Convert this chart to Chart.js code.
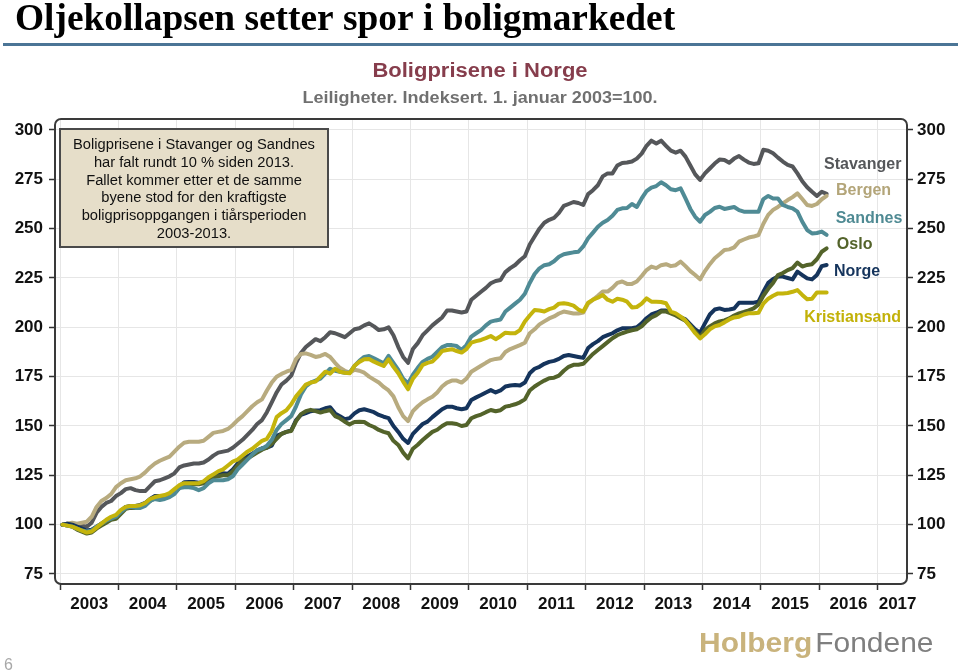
<!DOCTYPE html>
<html><head><meta charset="utf-8">
<script src="https://cdn.jsdelivr.net/npm/chart.js@4.4.1/dist/chart.umd.min.js"></script>
<style>html,body{margin:0;padding:0;background:#fff;}canvas{display:block;}</style>
</head><body>
<canvas id="c" width="960" height="672"></canvas>
<script>
// ---- data (monthly index, Jan 2003 = 100) ----
const startYear = 2003;
const yearTicks = [2003,2004,2005,2006,2007,2008,2009,2010,2011,2012,2013,2014,2015,2016,2017];
const valueTicks = [75,100,125,150,175,200,225,250,275,300];

const stavanger = [100,100.5,100.5,100,99.5,99,101,106,109,111,112,114.5,
116,118,118.5,117.5,117,117,119.5,122,122.5,123.5,124.5,126,
129,130,130.5,131,131,131.5,133,135,136.5,137,137.5,139,
141,143,145.5,148,151,153,157,162,167,171,173,175.5,
182,187,190,192,194,193,195,197.5,197,196,195,197,
199,199.5,201,202,200.5,198.6,199,200,196,190,185,182,
189,192,196,198.5,201,203,205,208.5,208.5,208,207.5,208,
214,216,218,220,222.3,223.5,224,228,230,231.6,234,236,
242,246,250,253,254.5,255.5,258,261.5,262.5,263.5,263,262,
267.5,269.5,272,276.5,278,278,282,283.3,283.5,284,285.5,288,
292,294.6,293.2,294.6,292,289.5,288.5,289.5,286.5,282,277.5,274.7,
278,280.5,283,285,284.8,283.4,285.5,286.8,285,283.5,282.8,283.1,
290,289.5,288.2,286,284,282.3,281.5,278,274,271,268.7,266.6,
268.7,267.6];

const bergen = [100,100.5,101,100.5,101,101.5,104,109,112,113.5,115.5,119,
121,122.5,123,123.5,124.5,126.5,129,131,132.4,133.5,134.5,137,
139.5,141.5,142,142,142,142.5,144.5,146.5,147,147.5,148.5,150.5,
153,155,157.5,160,162,163.5,168,172,175,176.4,177.5,178.4,
184,186.5,186.8,186,185,185.5,186.5,185,182,179.5,178,177,
178.5,178,177,175,173.5,172,169.8,168,165,159.5,155,152.5,
157.5,160,162,163.5,164.8,167,170,172,173,173,172,174,
177.5,179,180.5,182,183.4,184,184.3,187.5,189,190,191,192.2,
197,199,201.5,203,204.5,205.5,207,208,207.5,207,207,207.5,
212,214,216,218.1,218.1,220,222.5,223.2,222,222,223.2,226,
229,230.8,230,231.5,232,231,231.5,233.3,231,228.5,226.5,224.3,
228.5,232,235,237,239.2,239.5,240.5,243.4,244.5,245.5,246,246.8,
252.5,257,259.5,261,262.8,264.5,266,267.9,265,262,261.5,262.5,
264.9,266.6];

const sandnes = [100,99.5,99,98,97,96.5,97,99,100.5,102,103,104,
106.5,108.5,109,108.5,108.5,109.5,112,113,112.5,113,114,115.5,
118.5,119,119,118.5,117.5,118.5,121,122.5,122.5,122.5,123,124.5,
128,130.5,133,135.5,137.7,138.5,140,143,148,151,153,155,
160,166,170,172,173,174,176.5,179,178,177.5,177,177,
180.5,183,185,185.5,184.3,183,181.8,185.5,182,178.4,174,171.6,
176,179.5,182.5,184,185.1,187.5,190,191,191,190.5,188.5,191,
195.3,197,198.6,201,202.9,203.5,204,208,210,212,214,217,
222.5,227,229.9,231.5,232,233.5,235.8,237,237.5,238,238.3,241,
245.1,248,251,253,254.4,256.5,259.5,260.3,260.5,262.5,261,265.3,
269,270.8,271.6,273.5,272,270,269.5,270.4,265.3,260,256,253.5,
256.9,258.5,260.5,261.1,260,260.5,261,259.4,258.6,258.6,258.6,258.6,
265,266.6,265.3,265.3,262,261,260.3,258.6,253.5,249.3,247.6,247.8,
248.5,246.8];

const kristiansand = [100,99.5,99,98,97,96,96.5,98.5,100.5,102.5,104,105,
107.5,109,109.5,109.5,109.8,111,113,114,114.5,115,116,118,
120,121,121,121,121,122,124,125.5,127,128,130,132,
133,135,137,138.5,140.5,142.5,143.5,147.5,154.5,156.5,158,161,
165,168,171,172,172.5,175,177.5,176.5,179,177.5,177,176.7,
180.5,182.5,183.8,184,182.6,181.5,180.4,183.8,180,176.7,172.5,168.6,
174,177,180.9,182,182.6,185,188,188.5,188.9,188,187.2,189,
192.2,193,193.6,194.5,195.6,194,195.5,197.3,197,197,198.6,203,
206,208.8,208.5,208,209.2,210,212,212.2,211.8,211,209,208,
212.5,214,215,216.4,214,213,214.5,214,213,210.1,210.3,212,
214.7,213,213,212.8,212.2,208,207.1,205.4,203.5,200.3,197,194.4,
196.5,199,200.5,201.2,202.5,204,205,205.4,206.5,207.1,207.1,207.4,
212,214.5,216,217.2,217.2,217.4,218,218.9,216.4,214.2,214.5,217.6,
217.6,217.6];

const norge = [100,100.5,100,99,98,97,97.5,99,100.5,102,103.5,104.5,
107,109,109.5,109.5,110,111,113,114.5,114.5,114.5,115.5,117,
119.5,121.5,121.6,121.6,121.3,121.5,123.5,125,125.8,126,125.8,128,
131,133.5,134.5,136,137.5,138.7,139,140,145,146,147,147.8,
153,155.6,156.5,157.5,157.8,158,159,159.5,156.4,155,153.4,154,
156.4,158,158.5,157.8,157,155.6,154.7,154,150,147,143.5,141.4,
146,148.5,151,152.2,154.5,156.5,158.5,159.8,159.8,159,158.5,159,
163.2,164.5,165.7,167,168.2,167,168,170,170.5,170.8,170.5,172,
176.7,179,180,181.5,182.5,183,184,185.5,186,185.5,185,184.5,
189.5,191.5,193,195,196,197,198.5,199.5,199.5,199.5,200,202,
204.6,206.5,207.4,208.5,208.5,207.5,206.5,205,204,201.5,199,197.3,
202,206.5,209,209.6,208.8,209,209.5,212.5,212.5,212.5,212.5,213,
218,222.5,224.5,225.7,225.7,225,224.3,228.2,226.5,224.8,224.3,226.5,
231,231.6];

const oslo = [100,99.5,99,97.5,96.5,95.5,96,98,99.5,101,102.5,103,
105.5,108,108.5,108.5,109,110,112,113.5,113.5,113.5,114.5,116,
118.5,120.5,120.5,120.5,120.5,121,122.5,124,124.5,125,125,127,
130,132.5,133.5,135,136.5,138,139,141,143.5,146,147,147.5,
152.5,156,157.5,158.2,157.5,156.8,157.5,158.1,155,153.9,152.2,150.8,
152,152.2,152,150.5,149.5,148,147,146.3,142.5,140.4,136.5,133.6,
138.5,140.5,142.9,145,147,148.1,150,151.4,151.4,151,150,150.5,
153.9,155,155.8,157,158.1,157.5,158,159.8,160.3,161,162,163.5,
168,170,171.6,173,174.2,174.5,175.5,178,180,181,181,181.5,
184,186.5,188.5,190.5,192.5,194.5,196,197,197.8,198.5,199,200.5,
203,205,206.2,208,208,207.1,206,204.6,203.3,200.8,198,195,
198.6,200.5,202,203,203.5,204.5,206,207.1,207.8,208.6,209.6,211.5,
216,219.5,222.5,226.5,227.5,229,230,232.8,230.8,231.6,232,234.5,
238.3,240];

const seriesNames = ['Kristiansand','Sandnes','Oslo','Norge','Bergen','Stavanger'];
const seriesValues = [kristiansand, sandnes, oslo, norge, bergen, stavanger];

// ---- styles ----
const seriesColors = {
  Stavanger:'#55575a', Bergen:'#b8ab7f', Sandnes:'#4f8b95',
  Oslo:'#53632a', Norge:'#15345c', Kristiansand:'#c4b40c'
};
const labelColors = {
  Stavanger:'#55575a', Bergen:'#b3a579', Sandnes:'#4f8a93',
  Oslo:'#53632a', Norge:'#15345c', Kristiansand:'#c2b108'
};
// label anchors in data units (left edge x in years, vertical centre in index value)
const labelAnchors = {
  Stavanger:[2016.08,282.3], Bergen:[2016.285,269.1], Sandnes:[2016.28,254.9],
  Oslo:[2016.30,241.7], Norge:[2016.25,228.2], Kristiansand:[2015.74,204.7]
};
const lastYearLabelAt = 2017.34; // last year label sits left of mid-year (clipped at frame)

const toPoints = arr => arr.map((v,i)=>({x: startYear + (i+0.5)/12, y: v}));

const SANS = '"Liberation Sans", Arial, sans-serif';

function sText(ctx, text, x, y, sx, align){
  ctx.save(); ctx.translate(x,y); ctx.scale(sx,1);
  ctx.textAlign = align; ctx.fillText(text,0,0); ctx.restore();
}

const tickFont = {family: SANS, size: 17, weight: 'bold'};

const decor = {
  id:'decor',
  beforeDraw(chart){
    const ctx = chart.ctx;
    ctx.save();
    ctx.fillStyle='#fff'; ctx.fillRect(0,0,chart.width,chart.height);
    ctx.textBaseline='alphabetic';
    ctx.fillStyle='#000';
    ctx.font='bold 37px "Liberation Serif", "Times New Roman", serif';
    sText(ctx,'Oljekollapsen setter spor i boligmarkedet',15,30,1.01,'left');
    ctx.fillStyle='#4b7596'; ctx.fillRect(3,43,955,3);
    ctx.fillStyle='#863d4c'; ctx.font='bold 20px '+SANS;
    sText(ctx,'Boligprisene i Norge',480,77,1.1,'center');
    ctx.fillStyle='#707070'; ctx.font='bold 17px '+SANS;
    sText(ctx,'Leiligheter. Indeksert. 1. januar 2003=100.',480,103,1.06,'center');
    // logo
    ctx.font='bold 28px '+SANS; ctx.fillStyle='#c9b37c';
    sText(ctx,'Holberg',699,652,1.07,'left');
    const w = ctx.measureText('Holberg').width*1.07;
    ctx.font='28px '+SANS; ctx.fillStyle='#7f7f7f';
    sText(ctx,'Fondene',699+w+3,652,1.07,'left');
    ctx.font='16px '+SANS; ctx.fillStyle='#a8a8a8';
    sText(ctx,'6',4,670,1,'left');
    ctx.restore();
  },
  afterDraw(chart){
    const ctx = chart.ctx, a = chart.chartArea;
    ctx.save();
    // plot frame
    ctx.strokeStyle='#3a3a3a'; ctx.lineWidth=2;
    ctx.beginPath(); ctx.roundRect(a.left,a.top,a.right-a.left,a.bottom-a.top,6); ctx.stroke();
    // note box
    ctx.fillStyle='#e6dec9'; ctx.fillRect(60,129,268,118);
    ctx.strokeStyle='#4a4a4a'; ctx.lineWidth=2; ctx.strokeRect(60,129,268,118);
    ctx.fillStyle='#111'; ctx.font='14px '+SANS; ctx.textBaseline='alphabetic';
    const lines=['Boligprisene i Stavanger og Sandnes','har falt rundt 10 % siden 2013.',
      'Fallet kommer etter et de samme','byene stod for den kraftigste',
      'boligprisoppgangen i tiårsperioden','2003-2013.'];
    lines.forEach((t,i)=>sText(ctx,t,194,149+i*17.8,1.05,'center'));
    // series labels
    const xs = chart.scales.x, ys = chart.scales.y;
    ctx.font='bold 16px '+SANS; ctx.textBaseline='middle';
    Object.keys(labelAnchors).forEach(n=>{
      const [lx,ly]=labelAnchors[n];
      ctx.fillStyle=labelColors[n];
      ctx.textAlign='left';
      ctx.fillText(n, xs.getPixelForValue(lx), ys.getPixelForValue(ly));
    });
    // last year label
    const last = yearTicks[yearTicks.length-1];
    ctx.font='bold 17px '+SANS; ctx.fillStyle='#111'; ctx.textAlign='center'; ctx.textBaseline='middle';
    ctx.fillText(String(last), xs.getPixelForValue(lastYearLabelAt), xs.top + 20);
    ctx.restore();
  }
};

const yCommon = {
  type:'linear', min:69.93, max:305.57,
  afterBuildTicks: s => { s.ticks = valueTicks.map(v=>({value:v})); },
  border:{display:false},
};

new Chart(document.getElementById('c'), {
  type:'line',
  data:{
    datasets: seriesNames.map((n,i)=>({
      label:n, data: toPoints(seriesValues[i]),
      borderColor: seriesColors[n], backgroundColor: seriesColors[n],
      borderWidth:4, pointRadius:0, tension:0,
      borderJoinStyle:'round', borderCapStyle:'round', fill:false
    }))
  },
  options:{
    responsive:false, animation:false, events:[],
    devicePixelRatio:1,
    layout:{padding:{top:119,bottom:58,left:0,right:0}},
    plugins:{legend:{display:false}, tooltip:{enabled:false}},
    scales:{
      x:{
        type:'linear', min:2002.914, max:2017.501,
        afterBuildTicks: s => { s.ticks = yearTicks.map(v=>({value:v})); },
        afterFit: s => { s.height = 30; },
        border:{display:false},
        grid:{color:'#e6e6e6', lineWidth:1, tickLength:6, tickColor:'#333', tickWidth:1.5},
        ticks:{autoSkip:false, maxRotation:0, minRotation:0, labelOffset:29.2, padding:4,
          color:'#111', font:tickFont,
          callback: v => (v === yearTicks[yearTicks.length-1] ? '' : String(v))}
      },
      y: Object.assign({}, yCommon, {
        position:'left',
        afterFit: s => { s.width = 55; },
        grid:{color:'#e6e6e6', lineWidth:1, tickLength:6, tickColor:'#333', tickWidth:1.5},
        ticks:{padding:6, color:'#111', font:tickFont, callback: v => String(v)}
      }),
      y2: Object.assign({}, yCommon, {
        position:'right',
        afterFit: s => { s.width = 53; },
        grid:{drawOnChartArea:false, tickLength:6, tickColor:'#333', tickWidth:1.5},
        ticks:{padding:4, color:'#111', font:tickFont, callback: v => String(v)}
      })
    }
  },
  plugins:[decor]
});
</script>
</body></html>
